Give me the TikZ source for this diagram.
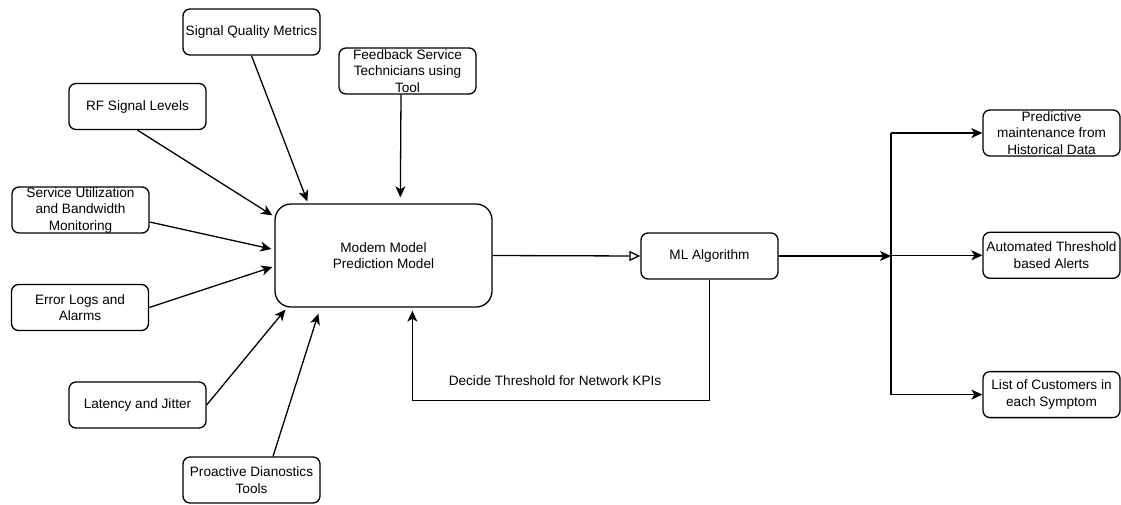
\documentclass[tikz,border=0pt]{standalone}
\usepackage{fontspec}
\setmainfont{Liberation Sans}
\usetikzlibrary{arrows.meta, positioning, calc}

\begin{document}
\begin{tikzpicture}[
    x=1pt, y=-1pt,
    font=\fontsize{13.6}{16.5}\selectfont,
    block/.style={
        rectangle,
        draw=black,
        line width=1.3pt,
        rounded corners=7pt,
        align=center,
        minimum width=137pt,
        minimum height=46pt,
        inner sep=0pt
    },
    model/.style={
        block,
        rounded corners=16pt,
        minimum width=217pt,
        minimum height=103pt
    },
    arrow/.style={
        -{Stealth[length=11pt,width=10pt,inset=3pt]},
        line width=1.3pt
    },
    hollow/.style={
        -{Triangle[open,length=11pt,width=10pt]},
        line width=1.3pt
    }
]
\useasboundingbox (0,0) rectangle (1121,504);

% Input boxes
\node[block] (sqm) at (251.5,32) {Signal Quality Metrics};
\node[block] (fb) at (407.5,71) {Feedback Service\\Technicians using\\Tool};
\node[block] (rf) at (137.5,106.5) {RF Signal Levels};
\node[block] (su) at (80.5,210) {Service Utilization\\and Bandwidth\\Monitoring};
\node[block] (el) at (80,307.5) {Error Logs and\\Alarms};
\node[block] (lj) at (137.5,405) {Latency and Jitter};
\node[block] (pd) at (251.5,480) {Proactive Dianostics\\Tools};

% Model and algorithm
\node[model] (modem) at (383.5,255.5) {Modem Model\\Prediction Model};
\node[block] (ml) at (709.5,256) {ML Algorithm};

% Outputs
\node[block] (pm) at (1051.5,133) {Predictive\\maintenance from\\Historical Data};
\node[block, below=75pt of pm] (ata) {Automated Threshold\\based Alerts};
\node[block, below=92pt of ata] (lcs) {List of Customers in\\each Symptom};

% Inputs into the model
\draw[arrow] (sqm.south) -- ($(modem.north west)+(33,-2)$);
\draw[arrow] ($(fb.south)+(-6.5,0)$) -- ($(modem.north west)+(126,-6)$);
\draw[arrow] (rf.south) -- ($(modem.north west)+(-2,12)$);
\draw[arrow] ($(su.east)+(0,12)$) -- ($(modem.west)+(-3,-6.5)$);
\draw[arrow] (el.east) -- ($(modem.west)+(-2,11.5)$);
\draw[arrow] (lj.east) -- ($(modem.south west)+(11,2)$);
\draw[arrow] ($(pd.north)+(21.5,0)$) -- ($(modem.south west)+(44,6)$);

% Model to algorithm, feedback loop
\draw[hollow] (modem.east) -- (ml.west);
\draw[arrow] (ml.south) |- ($(modem.south west)+(138,93)$) -- ($(modem.south west)+(138,3)$);
\node (kpi) at (555,381) {Decide Threshold for Network KPIs};

% Split to outputs
\coordinate (split) at (891,256);
\draw[arrow] (ml.east) -- (split);
\draw[line width=1.3pt] (split |- pm.west) -- (split |- lcs.west);
\draw[arrow] (split |- pm.west) -- (pm.west);
\draw[arrow] (split |- ata.west) -- (ata.west);
\draw[arrow] (split |- lcs.west) -- (lcs.west);

\end{tikzpicture}
\end{document}
